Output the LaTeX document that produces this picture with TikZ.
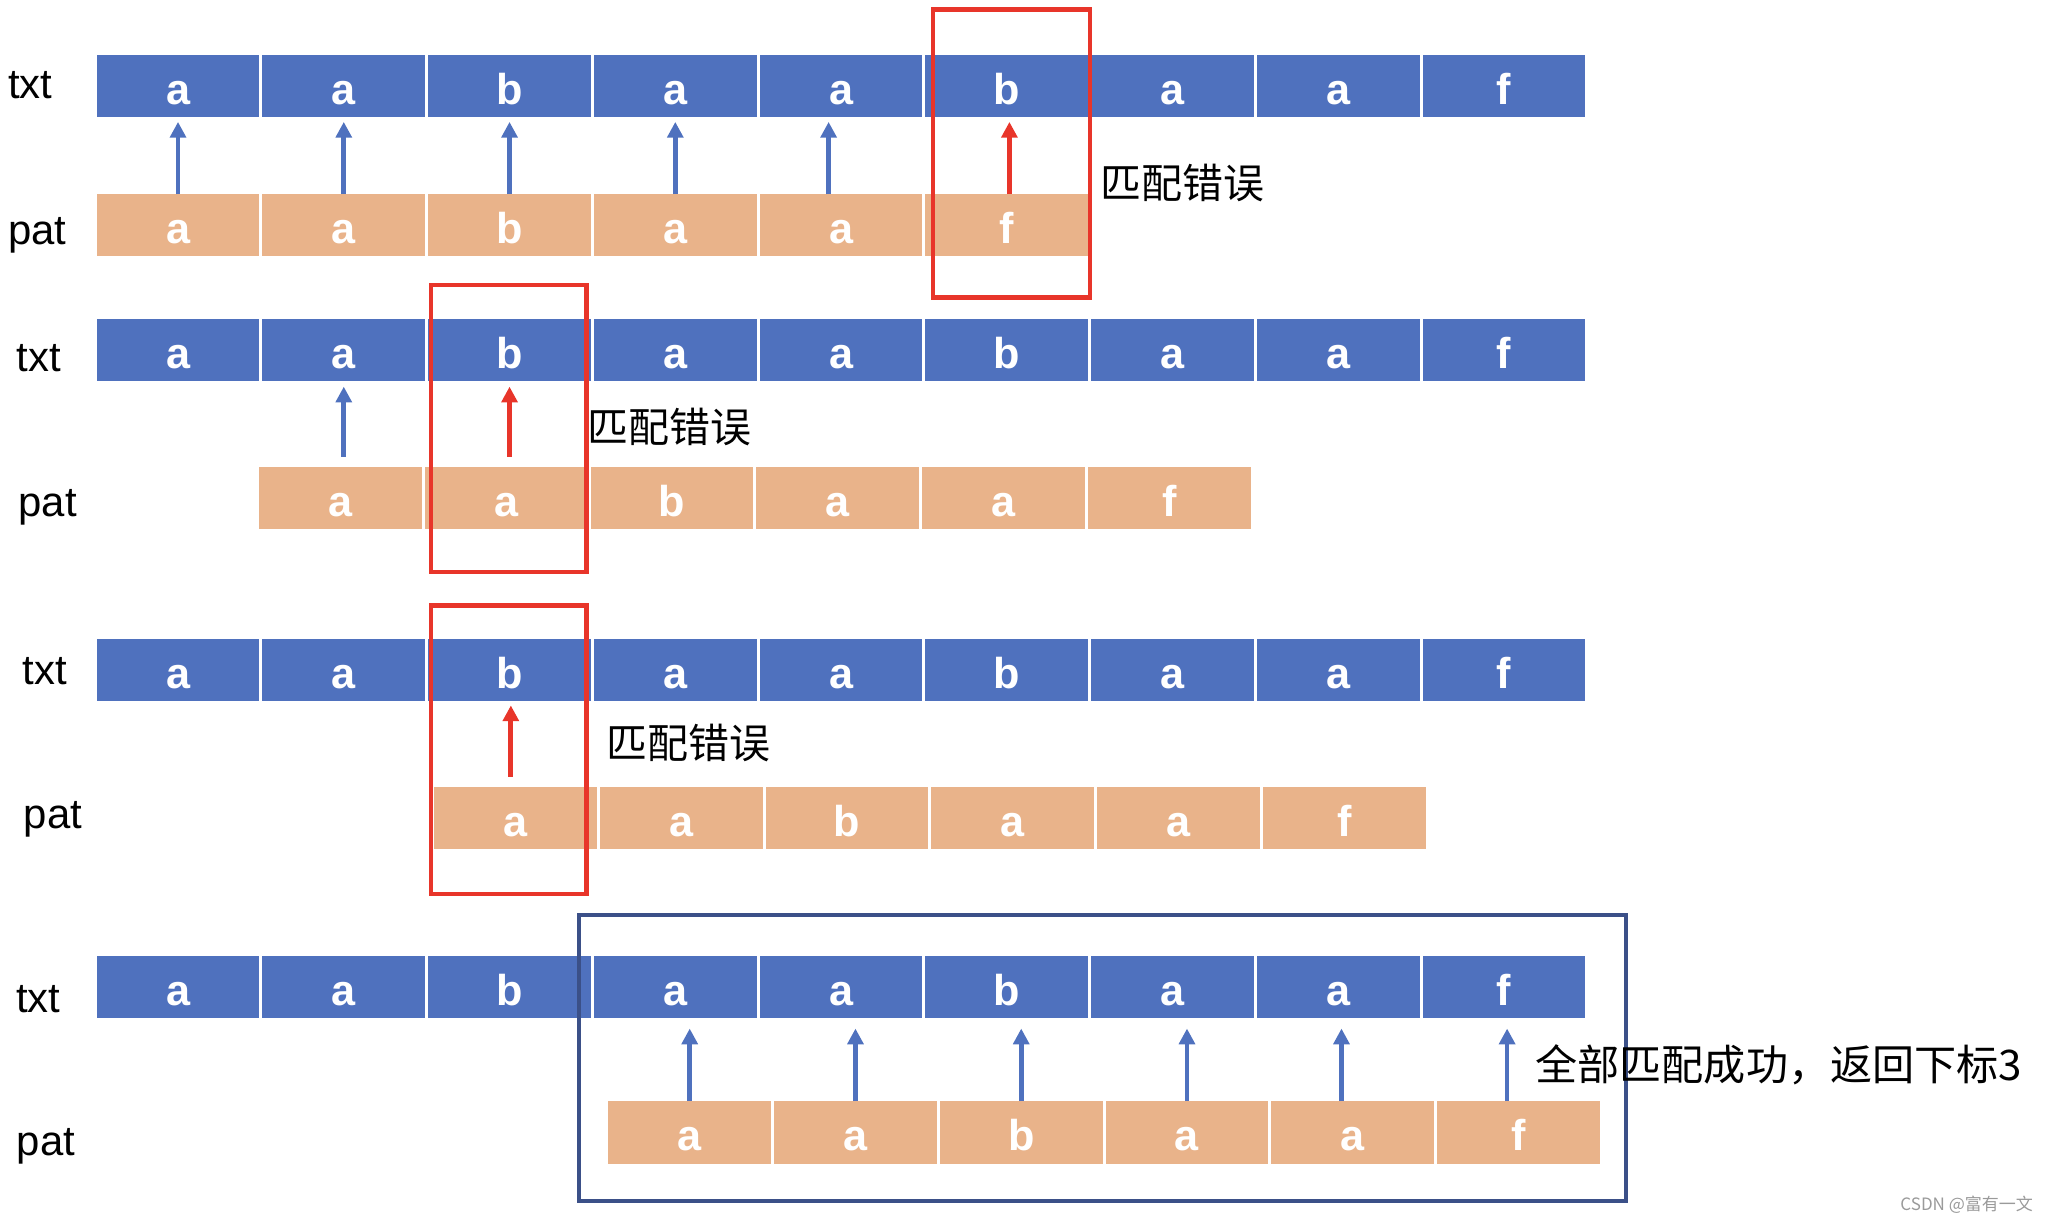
\documentclass[tikz,border=0pt]{standalone}
\usepackage{fontspec}
\setmainfont{Liberation Sans}
\newfontfamily\cjk{Noto Sans CJK SC}
\usetikzlibrary{arrows.meta}
\definecolor{txtblue}{HTML}{4F71BE}
\definecolor{patorange}{HTML}{E9B38A}
\definecolor{errred}{HTML}{E8352A}
\definecolor{boxblue}{HTML}{3B5088}
\definecolor{wmgray}{HTML}{9A9A9A}
\begin{document}
\begin{tikzpicture}[x=1pt,y=-1pt,
  cell/.style={minimum width=124.4pt,minimum height=47.5pt,inner sep=0pt,
    text height=27.6pt,text depth=0pt,text=white,
    font=\fontsize{33}{33}\selectfont\bfseries},
  tcell/.style={cell,fill=txtblue},
  pcell/.style={cell,fill=patorange},
  rowlabel/.style={anchor=base west,inner sep=0pt,font=\fontsize{32}{32}\selectfont},
  note/.style={anchor=west,inner sep=0pt,font=\cjk\fontsize{31.3}{31.3}\selectfont},
  barrow/.style={draw=txtblue,line width=3.6pt,-{Triangle[width=12pt,length=12pt]}},
  rarrow/.style={draw=errred,line width=3.6pt,-{Triangle[width=12pt,length=12pt]}},
  redbox/.style={draw=errred,line width=3.5pt},
  bluebox/.style={draw=boxblue,line width=3pt},
]
\useasboundingbox (0,0) rectangle (1568,934);

% ---------- row 1 ----------
\foreach \i/\c in {1/a,2/a,3/b,4/a,5/a,6/b,7/a,8/a,9/f}
  \node[tcell] (t1-\i) at ({72.7+126.66*(\i-0.5)},65.7) {\c};
\foreach \i/\c in {1/a,2/a,3/b,4/a,5/a,6/f}
  \node[pcell] (p1-\i) at ({72.7+126.66*(\i-0.5)},172.2) {\c};
\node[rowlabel] (lt1) at (6,75) {txt};
\node[rowlabel] (lp1) at (6,187) {pat};
\foreach \i in {1,2,3,4}
  \draw[barrow,shorten >=3.5pt] (p1-\i.north) -- (t1-\i.south);
\draw[barrow,shorten >=3.5pt] ([xshift=-9.5pt]p1-5.north) -- ([xshift=-9.5pt]t1-5.south);
\draw[rarrow,shorten >=3.5pt] ([xshift=2pt]p1-6.north) -- ([xshift=2pt]t1-6.south);
\draw[redbox] (712.8,7.4) rectangle (832.8,227.2);
\node[note] (n1) at (841,140) {匹配错误};

% ---------- row 2 ----------
\foreach \i/\c in {1/a,2/a,3/b,4/a,5/a,6/b,7/a,8/a,9/f}
  \node[tcell] (t2-\i) at ({72.7+126.66*(\i-0.5)},267.6) {\c};
\foreach \i/\c in {1/a,2/a,3/b,4/a,5/a,6/f}
  \node[pcell] (p2-\i) at ({196.9+126.66*(\i-0.5)},380.6) {\c};
\node[rowlabel] (lt2) at (12.5,284) {txt};
\node[rowlabel] (lp2) at (14,394.3) {pat};
\draw[barrow,shorten <=7.5pt,shorten >=3.9pt] (t2-2.south |- p2-1.north) -- (t2-2.south);
\draw[rarrow,shorten <=7.5pt,shorten >=3.9pt] (t2-3.south |- p2-2.north) -- (t2-3.south);
\draw[redbox] (329.3,217.8) rectangle (448.2,437.2);
\node[note] (n2) at (449,326) {匹配错误};

% ---------- row 3 ----------
\foreach \i/\c in {1/a,2/a,3/b,4/a,5/a,6/b,7/a,8/a,9/f}
  \node[tcell] (t3-\i) at ({72.7+126.66*(\i-0.5)},512.1) {\c};
\foreach \i/\c in {1/a,2/a,3/b,4/a,5/a,6/f}
  \node[pcell] (p3-\i) at ({330.6+126.66*(\i-0.5)},625.1) {\c};
\node[rowlabel] (lt3) at (17,523) {txt};
\node[rowlabel] (lp3) at (18,633) {pat};
\draw[rarrow,shorten <=7.5pt,shorten >=3pt] ([xshift=1pt]t3-3.south |- p3-1.north) -- ([xshift=1pt]t3-3.south);
\draw[redbox] (329.3,462.8) rectangle (448.2,683.2);
\node[note] (n3) at (463,567.5) {匹配错误};

% ---------- row 4 ----------
\foreach \i/\c in {1/a,2/a,3/b,4/a,5/a,6/b,7/a,8/a,9/f}
  \node[tcell] (t4-\i) at ({72.7+126.66*(\i-0.5)},754.3) {\c};
\foreach \i/\c in {1/a,2/a,3/b,4/a,5/a,6/f}
  \node[pcell] (p4-\i) at ({463.7+126.66*(\i-0.5)},865.4) {\c};
\node[rowlabel] (lt4) at (12.2,773.8) {txt};
\node[rowlabel] (lp4) at (12.7,883.3) {pat};
\foreach \i in {1,2,3,4}
  \draw[barrow,shorten >=7.7pt] (p4-\i.north) -- (p4-\i.north |- t4-1.south);
\draw[barrow,shorten >=7.7pt] ([xshift=-8.6pt]p4-5.north) -- ([xshift=-8.6pt]p4-5.north |- t4-1.south);
\draw[barrow,shorten >=7.7pt] ([xshift=-8.7pt]p4-6.north) -- ([xshift=-8.7pt]p4-6.north |- t4-1.south);
\draw[bluebox] (442.5,699.5) rectangle (1242.2,917.5);
\node[note,font=\cjk\fontsize{32.2}{32.2}\selectfont] (n4) at (1173,814) {全部匹配成功，返回下标3};

% watermark
\node[anchor=west,inner sep=0pt,text=wmgray,font=\cjk\fontsize{13}{13}\selectfont] (wm) at (1452,920.5) {CSDN @富有一文};
\end{tikzpicture}
\end{document}
